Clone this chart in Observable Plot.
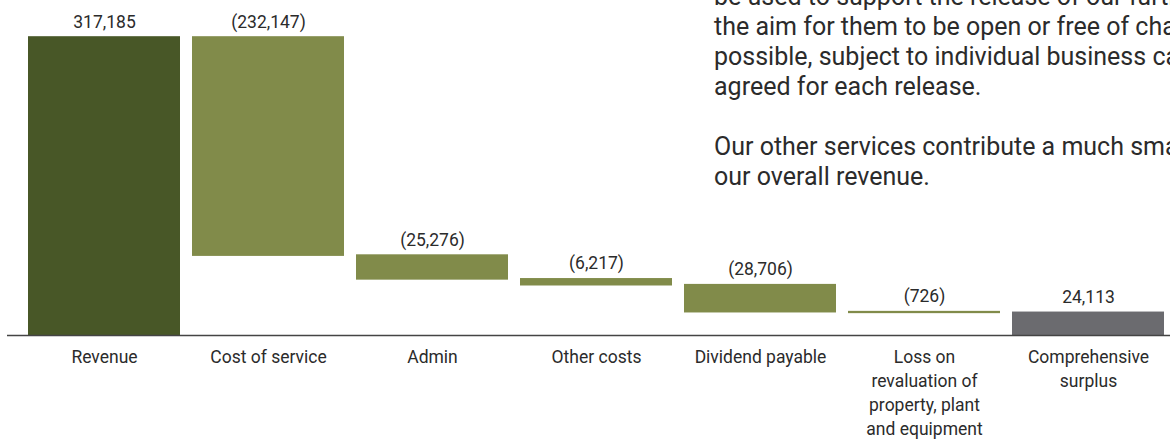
<!DOCTYPE html>
<html>
<head>
<meta charset="utf-8">
<script src="https://cdn.jsdelivr.net/npm/d3@7"></script>
<script src="https://cdn.jsdelivr.net/npm/@observablehq/plot@0.6"></script>
<style>
  html, body { margin: 0; padding: 0; background: #fff; overflow: hidden; }
  #wrap { position: relative; width: 1170px; height: 439px; overflow: hidden; }
  #note { position: absolute; left: 714px; top: -18px; white-space: nowrap;
          font-family: Roboto, sans-serif; font-size: 25px; line-height: 30px; color: #2b2b2b; }
  #note p { margin: 0 0 30px 0; }
</style>
</head>
<body>
<div id="wrap">
  <div id="chart"></div>
  <div id="note">
    <p>be used to support the release of our further data, with<br>the aim for them to be open or free of charge where<br>possible, subject to individual business cases<br>agreed for each release.</p>
    <p>Our other services contribute a much smaller share of<br>our overall revenue.</p>
  </div>
</div>
<script>
const categories = ["Revenue", "Cost of service", "Admin", "Other costs", "Dividend payable", "Loss on revaluation", "Comprehensive surplus"];
const tickLabels = ["Revenue", "Cost of service", "Admin", "Other costs", "Dividend payable", "Loss on\nrevaluation of\nproperty, plant\nand equipment", "Comprehensive\nsurplus"];
const values = [317185, -232147, -25276, -6217, -28706, -726, 24113];
const kinds = ["total", "change", "change", "change", "change", "change", "result"];
const colors = {total: "#485727", change: "#818b4a", result: "#6b6b6f"};

let cum = 0;
const data = categories.map((c, i) => {
  let y1, y2;
  if (kinds[i] === "change") { y1 = cum; y2 = cum + values[i]; cum = y2; }
  else { y1 = 0; y2 = values[i]; cum = values[i]; }
  const v = values[i];
  const label = v < 0 ? "(" + d3.format(",")(-v) + ")" : d3.format(",")(v);
  return {cat: c, y1, y2, top: Math.max(y1, y2), fill: colors[kinds[i]], label};
});

const font = "Roboto, sans-serif";
const chart = Plot.plot({
  width: 1170,
  height: 439,
  marginTop: 37,
  marginBottom: 104,
  marginLeft: 7,
  marginRight: 0,
  style: {fontFamily: font, background: "#fff"},
  x: {domain: categories, range: [26, 1167], paddingInner: 0.073, paddingOuter: 0},
  y: {domain: [0, 317185], axis: null},
  color: {type: "identity"},
  marks: [
    Plot.barY(data, {x: "cat", y1: "y1", y2: "y2", fill: "fill", insetTop: -0.8, insetBottom: -0.8}),
    Plot.text(data, {x: "cat", y: "top", text: "label", dy: -10, lineAnchor: "bottom", fontSize: 17.5, fill: "#2b2b2b"}),
    Plot.ruleY([0], {stroke: "#444", strokeWidth: 1.5}),
    Plot.axisX({tickSize: 0, tickPadding: 11, fontSize: 17.5, lineHeight: 1.36, fill: "#2b2b2b",
      tickFormat: (d) => tickLabels[categories.indexOf(d)], label: null})
  ]
});
document.getElementById("chart").appendChild(chart);
</script>
</body>
</html>
